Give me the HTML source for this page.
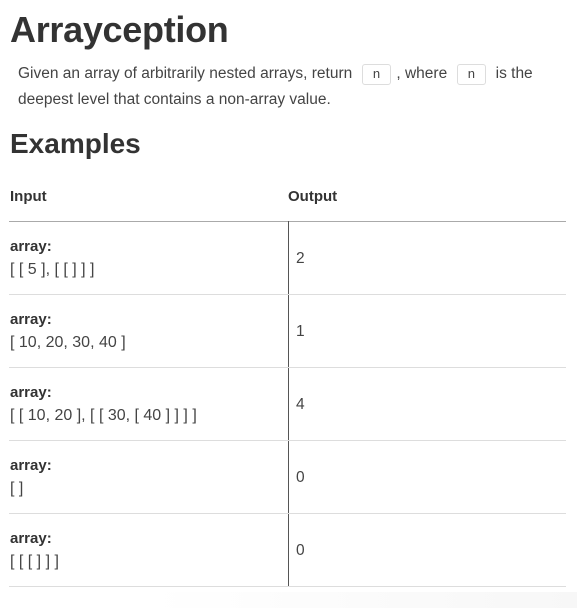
<!DOCTYPE html>
<html><head><style>
body{margin:0;width:577px;height:608px;background:#fff;font-family:"Liberation Sans",sans-serif;color:#333;position:relative;overflow:hidden}
.a{position:absolute;white-space:nowrap}
h1{position:absolute;left:10px;top:9px;margin:0;font-size:36px;font-weight:bold;color:#333;letter-spacing:-0.3px}
h2{position:absolute;left:10px;top:128px;margin:0;font-size:28px;font-weight:bold;color:#333}
p{position:absolute;left:18px;top:61px;margin:0;width:545px;font-size:15.5px;line-height:25px;color:#444}
code{font-family:"Liberation Mono",monospace;font-size:13px;border:1px solid #ddd;border-radius:3px;padding:2px 10px;margin:0 5px;background:#fff}
.th{font-size:15px;font-weight:bold;top:188px}
.hl{position:absolute;left:9px;width:557px;height:1px;background:#ddd}
.lab{font-size:15px;font-weight:bold;left:10px}
.val{font-size:16px;left:10px;color:#444}
.out{font-size:15.5px;left:296px;color:#444}
</style></head><body>
<h1>Arrayception</h1>
<p>Given an array of arbitrarily nested arrays, return <code>n</code>, where <code>n</code> is the deepest level that contains a non-array value.</p>
<h2>Examples</h2>
<div class="a th" style="left:10px">Input</div>
<div class="a th" style="left:288px">Output</div>
<div class="hl" style="top:221px;background:#aaa"></div>
<div style="position:absolute;left:288px;top:221px;width:1px;height:365px;background:#555"></div>

<div class="a lab" style="top:238px">array:</div><div class="a val" style="top:261px">[ [ 5 ], [ [ ] ] ]</div><div class="a out" style="top:250px">2</div>
<div class="hl" style="top:294px"></div>
<div class="a lab" style="top:311px">array:</div><div class="a val" style="top:334px">[ 10, 20, 30, 40 ]</div><div class="a out" style="top:323px">1</div>
<div class="hl" style="top:367px"></div>
<div class="a lab" style="top:384px">array:</div><div class="a val" style="top:407px">[ [ 10, 20 ], [ [ 30, [ 40 ] ] ] ]</div><div class="a out" style="top:396px">4</div>
<div class="hl" style="top:440px"></div>
<div class="a lab" style="top:457px">array:</div><div class="a val" style="top:480px">[ ]</div><div class="a out" style="top:469px">0</div>
<div class="hl" style="top:513px"></div>
<div class="a lab" style="top:530px">array:</div><div class="a val" style="top:553px">[ [ [ ] ] ]</div><div class="a out" style="top:542px">0</div>
<div class="hl" style="top:586px"></div>
<div style="position:absolute;left:150px;top:592px;width:427px;height:16px;background:linear-gradient(to right,#fff,#f7f7f7)"></div>
</body></html>
